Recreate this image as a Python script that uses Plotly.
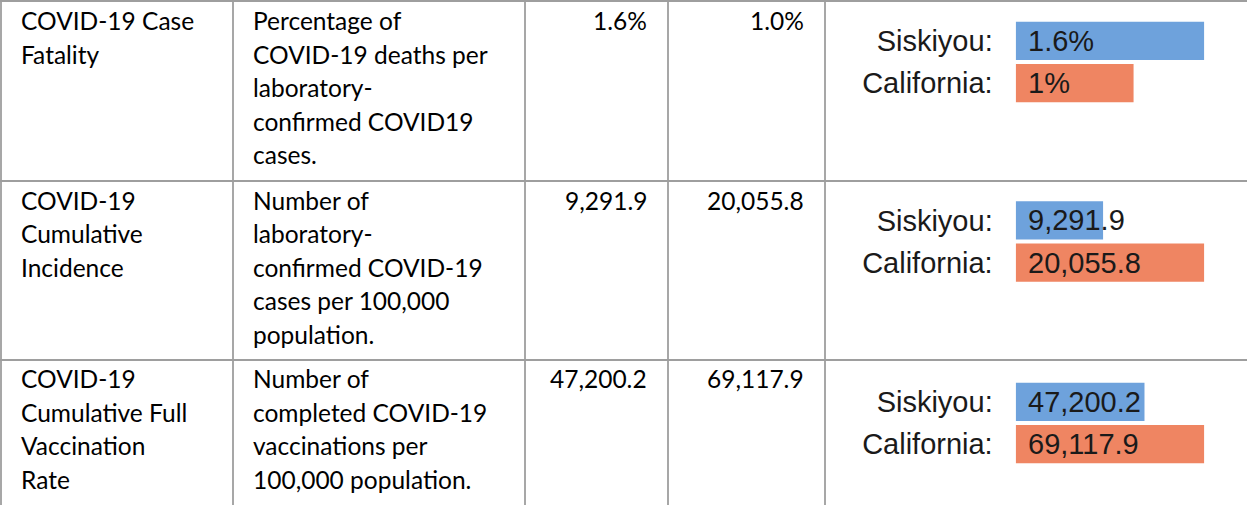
import plotly.graph_objects as go

# ---------------- data ----------------
indicator_lines = [
    ["COVID-19 Case", "Fatality"],
    ["COVID-19", "Cumulative", "Incidence"],
    ["COVID-19", "Cumulative Full", "Vaccination", "Rate"],
]
definition_lines = [
    ["Percentage of", "COVID-19 deaths per", "laboratory-", "confirmed COVID19", "cases."],
    ["Number of", "laboratory-", "confirmed COVID-19", "cases per 100,000", "population."],
    ["Number of", "completed COVID-19", "vaccinations per", "100,000 population."],
]
siskiyou_text = ["1.6%", "9,291.9", "47,200.2"]
california_text = ["1.0%", "20,055.8", "69,117.9"]

bar_categories = ["Siskiyou:", "California:"]
siskiyou_values = [1.6, 9291.9, 47200.2]
california_values = [1.0, 20055.8, 69117.9]
siskiyou_bar_labels = ["1.6%", "9,291.9", "47,200.2"]
california_bar_labels = ["1%", "20,055.8", "69,117.9"]

# ---------------- layout helpers ----------------
W, H = 1247, 505
def px(x):
    return x / W
def py(y):
    return 1 - y / H

BLUE = "#6ea2dc"
ORANGE = "#ef8562"
GRID = "#9e9e9e"
TABLE_FONT = "Lato"
TABLE_SIZE = 24.5
BAR_FONT = "Liberation Sans, Arial"
BAR_SIZE = 29

col_edges = [1, 233, 525, 668, 825]
row_tops = [1, 181, 360]
first_baseline = [30, 209.5, 388]
line_step = 33.5
bar_centers = [62, 241.5, 423]
bar_x0, bar_x1 = 1015.7, 1204.3
half = 42.3
pad_left = 18
pad_right = 19

fig = go.Figure()
annotations = []
shapes = []

# grid lines
for x in col_edges:
    shapes.append(dict(type="line", xref="paper", yref="paper", x0=px(x), x1=px(x),
                       y0=py(0), y1=py(H), line=dict(color=GRID, width=1.8)))
for y in row_tops:
    shapes.append(dict(type="line", xref="paper", yref="paper", x0=0, x1=1,
                       y0=py(y), y1=py(y), line=dict(color=GRID, width=1.8)))

def text_ann(txt, x, baseline, anchor):
    return dict(text=txt, xref="paper", yref="paper", x=px(x), y=py(baseline - 0.387 * TABLE_SIZE),
                xanchor=anchor, yanchor="middle", showarrow=False,
                font=dict(family=TABLE_FONT, size=TABLE_SIZE, color="#000000"))

for r in range(3):
    for i, t in enumerate(indicator_lines[r]):
        annotations.append(text_ann(t, col_edges[0] + pad_left, first_baseline[r] + i * line_step, "left"))
    for i, t in enumerate(definition_lines[r]):
        annotations.append(text_ann(t, col_edges[1] + pad_left, first_baseline[r] + i * line_step, "left"))
    annotations.append(text_ann(siskiyou_text[r], col_edges[3] - pad_right, first_baseline[r], "right"))
    annotations.append(text_ann(california_text[r], col_edges[4] - pad_right, first_baseline[r], "right"))

# bar charts
for r in range(3):
    k = "" if r == 0 else str(r + 1)
    vals = [siskiyou_values[r], california_values[r]]
    labels = [siskiyou_bar_labels[r], california_bar_labels[r]]
    fig.add_trace(go.Bar(x=vals, y=bar_categories, orientation="h",
                         marker=dict(color=[BLUE, ORANGE], line=dict(width=0)),
                         xaxis="x" + k, yaxis="y" + k, hoverinfo="skip", showlegend=False))
    c = bar_centers[r]
    fig.layout["xaxis" + k] = dict(domain=[px(bar_x0), px(bar_x1)], range=[0, max(vals)],
                                   visible=False, anchor="y" + k, fixedrange=True)
    fig.layout["yaxis" + k] = dict(domain=[py(c + half), py(c - half)], anchor="x" + k,
                                   type="category", categoryarray=bar_categories,
                                   autorange="reversed", showgrid=False, zeroline=False,
                                   showline=False, ticks="", ticklabelstandoff=22,
                                   tickfont=dict(family=BAR_FONT, size=BAR_SIZE, color="#1a1a1a"),
                                   fixedrange=True)
    for cat, lab in zip(bar_categories, labels):
        annotations.append(dict(text=lab, xref="x" + k, yref="y" + k, x=0, y=cat,
                                xanchor="left", yanchor="middle", xshift=10, showarrow=False,
                                font=dict(family=BAR_FONT, size=BAR_SIZE, color="#1a1a1a")))

fig.update_layout(width=W, height=H, margin=dict(l=0, r=0, t=0, b=0),
                  paper_bgcolor="white", plot_bgcolor="white", bargap=0.1,
                  shapes=shapes, annotations=annotations)

fig.write_html("out.html", config={"displayModeBar": False},
               post_script="document.body.style.margin='0';document.body.style.overflow='hidden';")
